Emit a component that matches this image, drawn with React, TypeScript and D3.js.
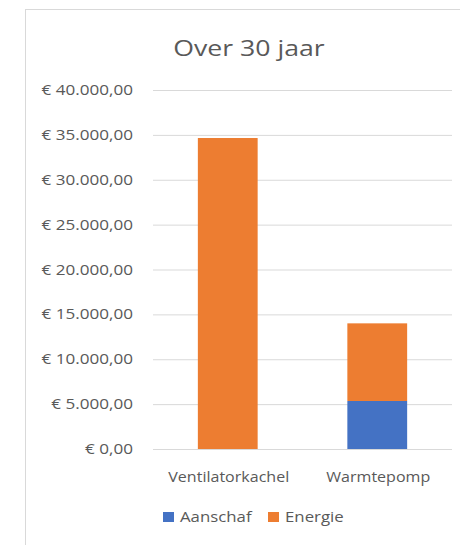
import * as d3 from 'd3';
import { useEffect, useRef } from 'react';

// chart data
const categories = ['Ventilatorkachel', 'Warmtepomp'];
const series = ['Aanschaf', 'Energie'];
const aanschaf = [0, 5350];
const energie = [34650, 8650];
const yTicks = [0, 5000, 10000, 15000, 20000, 25000, 30000, 35000, 40000];
const colors = ['#4472C4', '#ED7D31'];

const width = 460;
const height = 545;
const plot = { left: 153, right: 452, top: 90, bottom: 449 };
const font = "'Open Sans', sans-serif";
const textColor = '#595959';

const locale = d3.formatLocale({
    decimal: ',',
    thousands: '.',
    grouping: [3],
    currency: ['€ ', ''],
});
const euro = locale.format('$,.2f');

// the source is a slightly stretched export, so text gets a horizontal scale
function label(parent: any, x: number, y: number, txt: string, size: number, sx: number, anchor = 'start') {
    parent.append('g')
        .attr('transform', `translate(${x},${y}) scale(${sx},1)`)
        .append('text')
        .attr('text-anchor', anchor)
        .attr('font-family', font)
        .attr('font-size', size)
        .attr('fill', textColor)
        .text(txt);
}

function App() {
    const svgRef = useRef<SVGSVGElement>(null);

    useEffect(() => {
        const svg = d3.select(svgRef.current);
        svg.selectAll('*').remove();

        // outer chart border
        svg.append('rect')
            .attr('x', 25.5).attr('y', 9.5)
            .attr('width', 460).attr('height', 560)
            .attr('fill', '#fff')
            .attr('stroke', '#d9d9d9');

        label(svg, 249, 56, 'Over 30 jaar', 21, 1.27, 'middle');

        const x = d3.scaleBand<string>()
            .domain(categories)
            .range([plot.left, plot.right])
            .paddingInner(0.6)
            .paddingOuter(0.3);

        const y = d3.scaleLinear()
            .domain([0, 40000])
            .range([plot.bottom, plot.top]);

        // gridlines
        const yAxis = d3.axisLeft(y)
            .tickValues(yTicks)
            .tickSize(-(plot.right - plot.left))
            .tickFormat(() => '');
        const gy = svg.append('g')
            .attr('transform', `translate(${plot.left},0)`)
            .call(yAxis);
        gy.select('.domain').remove();
        gy.selectAll('.tick line').attr('stroke', '#d9d9d9');

        // y labels
        yTicks.forEach((t) => label(svg, 133, y(t) + 5, euro(t), 14, 1.22, 'end'));

        // stacked bars
        const rows = categories.map((c, i) => ({ cat: c, Aanschaf: aanschaf[i], Energie: energie[i] }));
        const stacked = d3.stack<any>().keys(series)(rows);
        svg.append('g')
            .selectAll('g')
            .data(stacked)
            .join('g')
            .attr('fill', (_, i) => colors[i])
            .selectAll('rect')
            .data((d) => d)
            .join('rect')
            .attr('x', (d) => x(d.data.cat)!)
            .attr('width', x.bandwidth())
            .attr('y', (d) => y(d[1]))
            .attr('height', (d) => y(d[0]) - y(d[1]));

        // category labels
        categories.forEach((c) => label(svg, x(c)! + x.bandwidth() / 2 + 1, 482, c, 15, 1.07, 'middle'));

        // legend
        const legendX = [163, 268];
        series.forEach((s, i) => {
            svg.append('rect')
                .attr('x', legendX[i]).attr('y', 512)
                .attr('width', 11).attr('height', 10)
                .attr('fill', colors[i]);
            label(svg, legendX[i] + 17, 522, s, 14, 1.2);
        });
    }, []);

    return (
        <svg
            ref={svgRef}
            width={width}
            height={height}
            style={{ position: 'absolute', left: 0, top: 0, background: '#fff' }}
        />
    );
}

export default App;
